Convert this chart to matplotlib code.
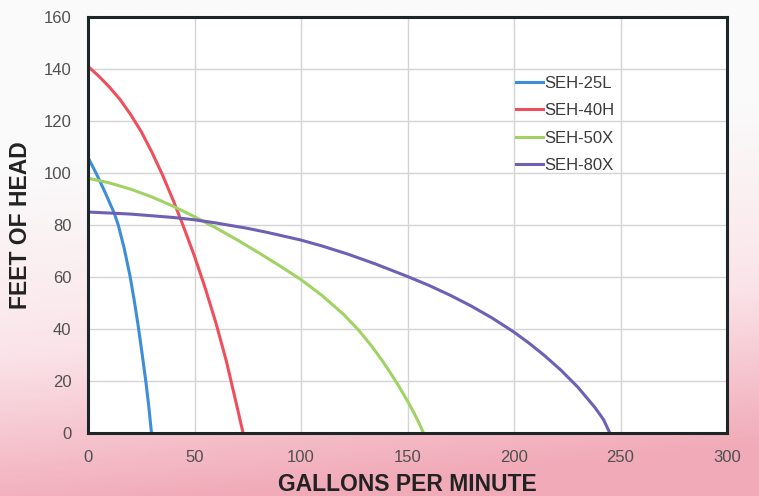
import matplotlib
matplotlib.use("Agg")
import matplotlib.pyplot as plt
import numpy as np
from matplotlib.colors import LinearSegmentedColormap

plt.rcParams["font.family"] = ["Liberation Sans", "DejaVu Sans"]

# pump curves (gpm, feet of head)
seh25l_gpm = [0, 4, 8, 12.3, 14.2, 17, 19.7, 21.7, 23.6, 25.4, 27.2, 28.5, 29.8]
seh25l_ft = [106, 99.6, 92.6, 84.6, 80, 71, 60.5, 51, 41, 30.5, 19.5, 10.5, 0]

seh40h_gpm = [0, 5, 10, 15, 20, 25, 30, 35, 40, 45, 50, 55, 60, 65, 70, 72.8]
seh40h_ft = [141, 137.3, 133.1, 128.3, 122.5, 115.9, 108, 99.2, 89.5, 79, 68, 55.8,
             42.5, 27.5, 10, 0]

seh50x_gpm = [0, 10, 20, 30, 40, 50, 60, 70, 80, 90, 100, 110, 120, 127,
              133, 138, 142, 146, 150, 153, 155.5, 157.5]
seh50x_ft = [98, 96.2, 93.8, 90.8, 87.2, 83.2, 78.9, 74.3, 69.4, 64.3, 59, 52.8, 45.6,
             39.6, 33.6, 28, 23.1, 17.9, 12.3, 7.8, 3.7, 0]

seh80x_gpm = [0, 20, 40, 50, 60, 75, 85, 100, 110, 122, 135, 150, 160, 170, 180,
              190, 200, 207, 214, 222, 230, 238, 242, 245]
seh80x_ft = [85, 84.2, 82.9, 82, 80.8, 78.7, 77, 74.2, 71.9, 68.8, 65, 60.2, 56.8, 53,
             48.8, 44.1, 38.8, 34.6, 30, 24.2, 17.6, 9.8, 5.2, 0]

series = [
    ("SEH-25L", seh25l_gpm, seh25l_ft, "#3d8ed8"),
    ("SEH-40H", seh40h_gpm, seh40h_ft, "#ef4f5b"),
    ("SEH-50X", seh50x_gpm, seh50x_ft, "#a0d264"),
    ("SEH-80X", seh80x_gpm, seh80x_ft, "#6f60b6"),
]

x_ticks = [0, 50, 100, 150, 200, 250, 300]
y_ticks = [0, 20, 40, 60, 80, 100, 120, 140, 160]

fig = plt.figure(figsize=(7.59, 4.96), dpi=100)

# background gradient: near-white top, pink bottom
bg = fig.add_axes([0, 0, 1, 1], zorder=-10)
yy, xx = np.mgrid[0:1:200j, 0:1:200j]
t = np.clip((yy - 0.3) / 0.7 + 0.2 * (xx - 0.3), 0, 1) ** 1.1
cmap = LinearSegmentedColormap.from_list("bg", ["#fafafa", "#fbe4e9", "#f1aab8"])
bg.imshow(t, cmap=cmap, aspect="auto", extent=[0, 1, 0, 1], origin="upper")
bg.axis("off")

ax = fig.add_axes([88 / 759, 1 - 433 / 496, (727 - 88) / 759, (433 - 17) / 496])
ax.set_facecolor("white")
for label, xs, ys, color in series:
    ax.plot(xs, ys, color=color, lw=2.2, label=label, solid_joinstyle="round")

ax.set_xlim(0, 300)
ax.set_ylim(0, 160)
ax.set_xticks(x_ticks)
ax.set_yticks(y_ticks)
ax.grid(True, color="#d4d4d4", lw=1.0)
ax.set_axisbelow(True)
ax.tick_params(length=0, labelsize=12, labelcolor="#505050", pad=12)
for sp in ax.spines.values():
    sp.set_color("#1c2626")
    sp.set_linewidth(2.2)

ax.set_xlabel("GALLONS PER MINUTE", fontsize=16.5, fontweight="bold", color="#222222", labelpad=6)
ax.set_ylabel("FEET OF HEAD", fontsize=16.5, fontweight="bold", color="#222222", labelpad=8)

leg = ax.legend(loc="upper left", bbox_to_anchor=(0.647, 0.895), frameon=False,
                fontsize=12, handlelength=1.6, handletextpad=0.1, labelspacing=0.75,
                labelcolor="#3a3a3a")

fig.savefig("out.png", dpi=100)
